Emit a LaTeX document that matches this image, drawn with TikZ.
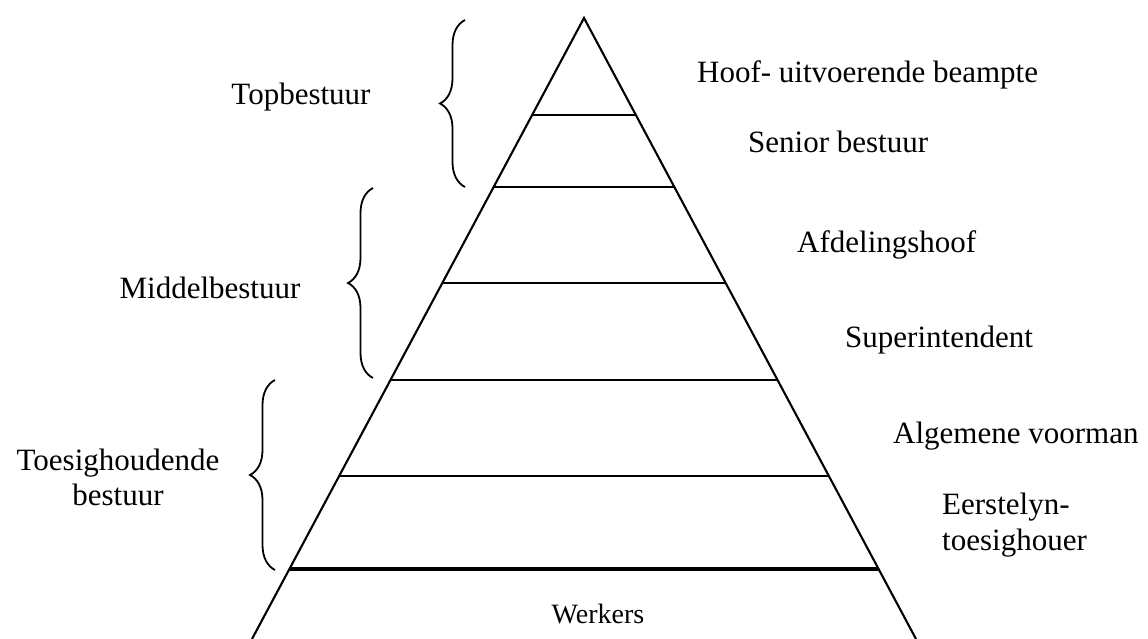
\documentclass[tikz,border=0pt]{standalone}
\usepackage{fontspec}
\setmainfont{Liberation Serif}
\usepackage{tikz}
\usetikzlibrary{positioning, calc, decorations.pathreplacing}

\tikzset{
  lbl/.style={inner sep=0pt, anchor=base west, font=\fontsize{31}{36}\selectfont},
  grp/.style={inner sep=0pt, anchor=base, align=center, font=\fontsize{31}{35}\selectfont},
  edge/.style={line width=2.1pt},
  brc/.style={line width=1.8pt, decorate, decoration={brace, amplitude=25pt}}
}

\begin{document}
\begin{tikzpicture}[x=1pt, y=-1pt]
\useasboundingbox (0,0) rectangle (1148,639);

% pyramid
\coordinate (apex) at (584,18);
\coordinate (bl) at (252,639);
\coordinate (br) at (916,639);
\draw[edge] (bl) -- (apex) -- (br);
\foreach \t/\n in {0.1562/a, 0.2722/b, 0.4267/c, 0.5829/d, 0.7375/e}{
  \coordinate (l\n) at ($(apex)!\t!(bl)$);
  \coordinate (r\n) at ($(apex)!\t!(br)$);
  \draw[edge] (l\n) -- (r\n);
}
\coordinate (lf) at ($(apex)!0.8873!(bl)$);
\coordinate (rf) at ($(apex)!0.8873!(br)$);
\draw[line width=3.8pt] (lf) -- (rf);

% braces
\coordinate (b1s) at (465,187); \coordinate (b1e) at (465,20);
\coordinate (b2s) at (373,378); \coordinate (b2e) at (373,188);
\coordinate (b3s) at (275,570); \coordinate (b3e) at (275,380);
\draw[brc] (b1s) -- (b1e);
\draw[brc] (b2s) -- (b2e);
\draw[brc] (b3s) -- (b3e);

% group labels
\node[grp] (top) at (301,105) {Topbestuur};
\node[grp] (mid) at (210,298) {Middelbestuur};
\node[grp] (toe) at (118,505) {Toesighoudende\\bestuur};

% level labels
\node[lbl] (hoof) at (697,83) {Hoof- uitvoerende beampte};
\node[lbl] (sen) at (748,153) {Senior bestuur};
\node[lbl] (afd) at (797,252) {Afdelingshoof};
\node[lbl] (sup) at (845,347) {Superintendent};
\node[lbl] (alg) at (893,443) {Algemene voorman};
\node[lbl, align=left] (eer) at (942,550) {Eerstelyn-\\toesighouer};
\node[inner sep=0pt, anchor=base, font=\fontsize{28}{34}\selectfont] (wrk) at (598,623) {Werkers};
\end{tikzpicture}
\end{document}
